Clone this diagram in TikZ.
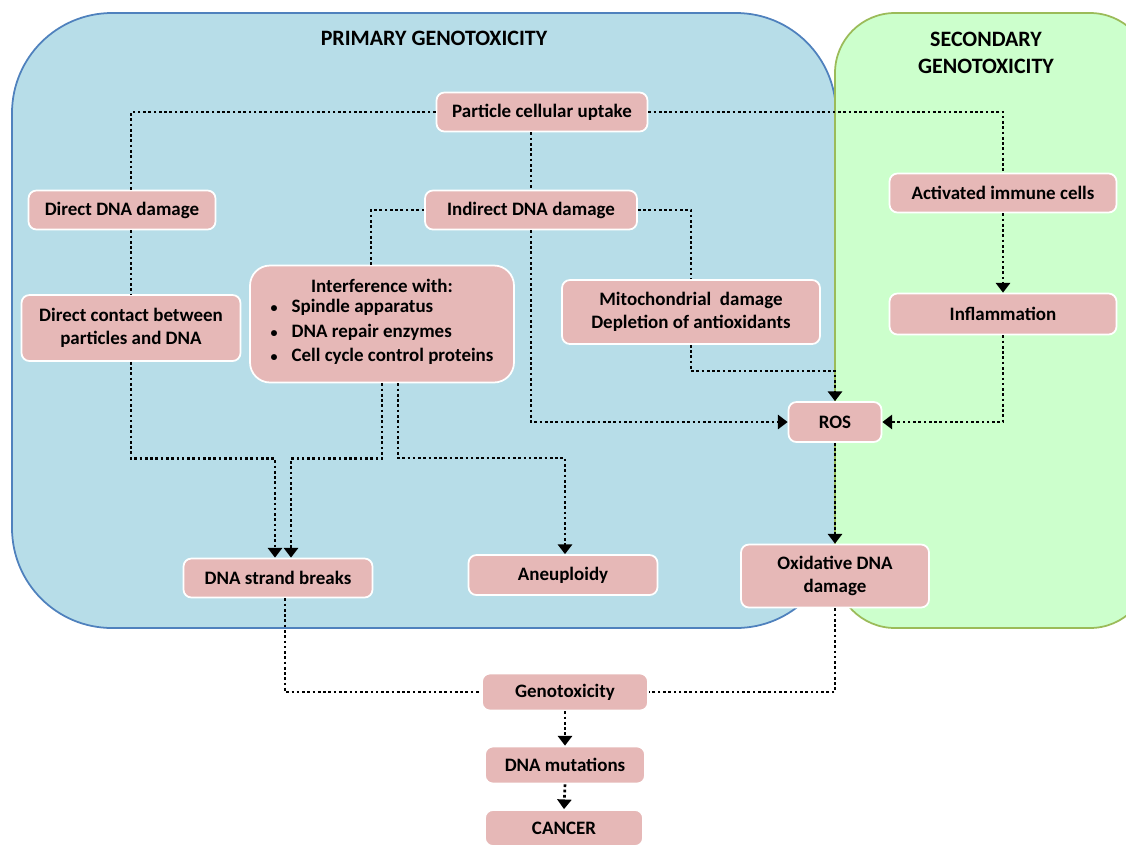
\documentclass[tikz,border=0pt]{standalone}
\usepackage{fontspec}
\setmainfont{Carlito}
\usepackage{tikz}
\usetikzlibrary{arrows.meta,calc}
\definecolor{boxpink}{HTML}{E6B8B7}
\definecolor{primaryfill}{HTML}{B7DDE8}
\definecolor{primaryline}{HTML}{4F81BD}
\definecolor{secondaryfill}{HTML}{CCFFCC}
\definecolor{secondaryline}{HTML}{9BBB59}
\newcommand{\bul}{{\fontsize{8}{8}\selectfont •}}
\tikzset{
    primary region/.style={fill=primaryfill,draw=primaryline,line width=1pt,rounded corners=2cm},
    secondary region/.style={fill=secondaryfill,draw=secondaryline,line width=1pt,rounded corners=1.2cm},
    region title/.style={font=\fontsize{12.5}{15}\selectfont\bfseries,align=center},
    box/.style={rectangle,rounded corners=4.5pt,fill=boxpink,draw=white,line width=1pt,
        align=center,inner sep=2pt,font=\fontsize{10.8}{13}\selectfont\bfseries},
    link/.style={line width=1.5pt,dash pattern=on 1.5pt off 1.5pt,line cap=butt},
    arr/.style={link,-{Triangle[width=8pt,length=5.5pt]}},
}

\begin{document}
\begin{tikzpicture}[x=0.02cm,y=-0.02cm]
    \useasboundingbox (0,0) rectangle (1126,846);

    % regions
    \draw[primary region] (12,13) rectangle (836,628);
    \begin{scope}
        \clip (0,0) rectangle (1126,846);
        \draw[secondary region] (835,13) rectangle (1150,628);
    \end{scope}
    \node[region title] (primary) at (434,38) {PRIMARY GENOTOXICITY};
    \node[region title] (secondary) at (986,53) {SECONDARY\\GENOTOXICITY};

    % boxes
    \node[box,minimum width=4.22cm,minimum height=0.78cm] (uptake) at (542,112) {Particle cellular uptake};
    \node[box,minimum width=3.74cm,minimum height=0.78cm] (direct) at (122,210) {Direct DNA damage};
    \node[box,minimum width=4.24cm,minimum height=0.78cm] (indirect) at (531,210) {Indirect DNA damage};
    \node[box,minimum width=4.54cm,minimum height=0.78cm] (immune) at (1003,193) {Activated immune cells};
    \node[box,minimum width=4.38cm,minimum height=1.32cm] (contact) at (131,328) {Direct contact between\\particles and DNA};
    \node[box,rounded corners=0.4cm,minimum width=5.28cm,minimum height=2.34cm] (interf) at (382,324)
        {Interference with:\\[1pt]
         \begin{tabular}{@{}l@{\hspace{8pt}}l@{}}
         \bul & Spindle apparatus\\[1pt]
         \bul & DNA repair enzymes\\[1pt]
         \bul & Cell cycle control proteins
         \end{tabular}};
    \node[box,minimum width=5.16cm,minimum height=1.28cm] (mito) at (691,312) {Mitochondrial\ \ damage\\Depletion of antioxidants};
    \node[box,minimum width=4.54cm,minimum height=0.82cm] (inflam) at (1003,314) {Inflammation};
    \node[box,minimum width=1.86cm,minimum height=0.8cm] (ros) at (835,422) {ROS};
    \node[box,minimum width=3.78cm,minimum height=0.78cm] (breaks) at (278,578) {DNA strand breaks};
    \node[box,minimum width=3.78cm,minimum height=0.8cm] (aneu) at (563,575) {Aneuploidy};
    \node[box,minimum width=3.76cm,minimum height=1.26cm] (oxid) at (835,576) {Oxidative DNA\\damage};
    \node[box,minimum width=3.32cm,minimum height=0.74cm] (geno) at (565,692) {Genotoxicity};
    \node[box,minimum width=3.2cm,minimum height=0.74cm] (mut) at (565,765) {DNA mutations};
    \node[box,minimum width=3.16cm,minimum height=0.72cm] (cancer) at (564,828) {CANCER};

    % primary pathway
    \draw[link] (uptake.west) -| (direct.north -| contact);
    \draw[link] (uptake.south -| indirect) -- (indirect.north);
    \draw[link] (direct.south -| contact) -- (contact.north);
    \draw[link] (indirect.west) -| ($(interf.north)+(-11,0)$);
    \draw[link] (indirect.east) -| (mito.north);
    \draw[arr] (contact.south) |- ($(breaks.north)+(-3,-99)$) -- ($(breaks.north)+(-3,0)$);
    \draw[arr] (interf.south) |- ($(breaks.north)+(13,-99)$) -- ($(breaks.north)+(13,0)$);
    \draw[arr] ($(interf.south)+(16,0)$) |- ($(aneu.north)+(2,-96)$) -- ($(aneu.north)+(2,0)$);
    \draw[arr] (indirect.south) |- (ros.west);
    \draw[arr] (mito.south) |- ($(ros.north)+(0,-30)$) -- (ros.north);

    % secondary pathway
    \draw[link] (uptake.east) -| (immune.north);
    \draw[arr] (immune.south) -- (inflam.north);
    \draw[arr] (inflam.south) |- (ros.east);
    \draw[arr] (ros.south) -- (oxid.north);

    % outcome
    \draw[link] ($(breaks.south)+(7,0)$) |- (geno.west);
    \draw[link] ($(aneu.south)+(2,0)$) -- ($(aneu.south)+(2,0)$ |- geno.north);
    \draw[link] (oxid.south) |- (geno.east);
    \draw[arr] (geno.south) -- (mut.north);
    \draw[arr] (mut.south) -- (cancer.north);
\end{tikzpicture}
\end{document}
